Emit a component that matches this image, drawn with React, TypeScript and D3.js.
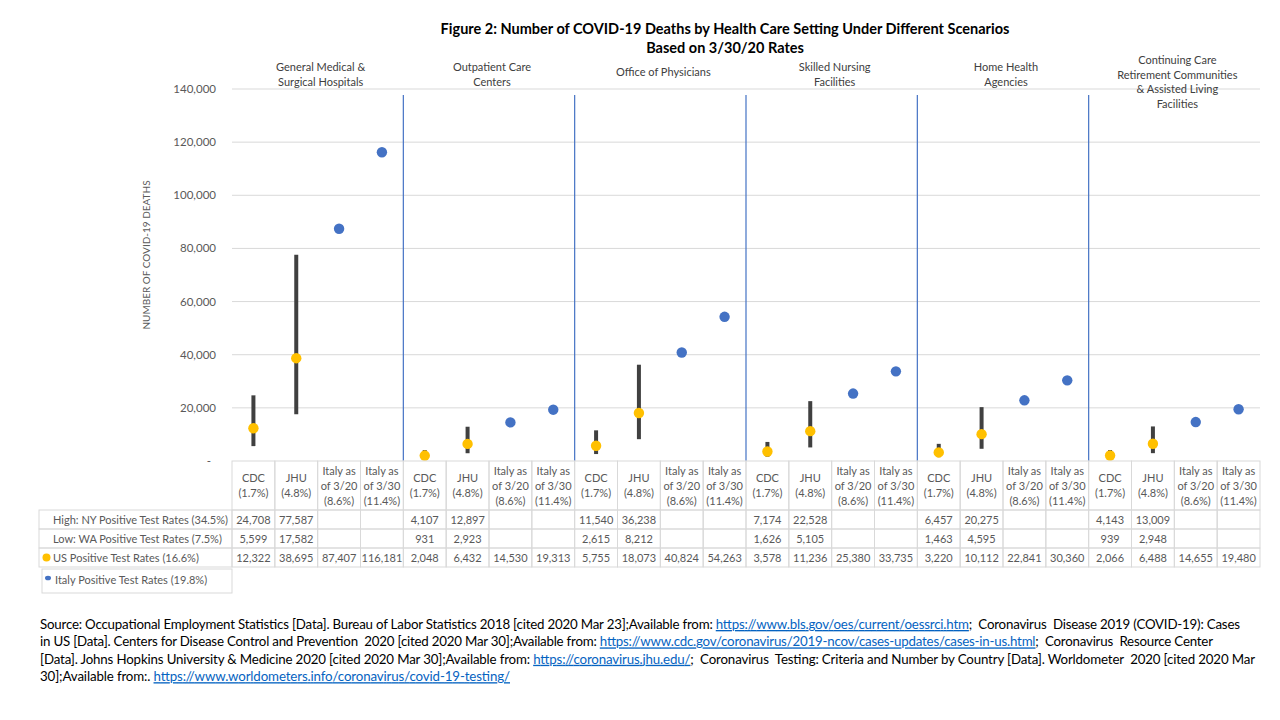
import * as d3 from "d3";

// categories and table data
const groupLabels = [
  ["General Medical &", "Surgical Hospitals"],
  ["Outpatient Care", "Centers"],
  ["Office of Physicians"],
  ["Skilled Nursing", "Facilities"],
  ["Home Health", "Agencies"],
  ["Continuing Care", "Retirement Communities", "& Assisted Living", "Facilities"],
];
const scenarioLabels = [
  ["CDC", "(1.7%)"],
  ["JHU", "(4.8%)"],
  ["Italy as", "of 3/20", "(8.6%)"],
  ["Italy as", "of 3/30", "(11.4%)"],
];
const scenarioSeries = ["us", "us", "italy", "italy"];

const highNY = [
  24708, 77587, null, null, 4107, 12897, null, null, 11540, 36238, null, null,
  7174, 22528, null, null, 6457, 20275, null, null, 4143, 13009, null, null,
];
const lowWA = [
  5599, 17582, null, null, 931, 2923, null, null, 2615, 8212, null, null,
  1626, 5105, null, null, 1463, 4595, null, null, 939, 2948, null, null,
];
const usRates = [
  12322, 38695, 87407, 116181, 2048, 6432, 14530, 19313, 5755, 18073, 40824, 54263,
  3578, 11236, 25380, 33735, 3220, 10112, 22841, 30360, 2066, 6488, 14655, 19480,
];
const yTicks = [0, 20000, 40000, 60000, 80000, 100000, 120000, 140000];
const rowLabels = [
  "High: NY Positive Test Rates (34.5%)",
  "Low: WA Positive Test Rates (7.5%)",
  "US Positive Test Rates (16.6%)",
];
const italyLegend = "Italy Positive Test Rates (19.8%)";

const sourceLines: [string, boolean][][] = [
  [
    ["Source: Occupational Employment Statistics [Data]. Bureau of Labor Statistics 2018 [cited 2020 Mar 23];Available from: ", false],
    ["https://www.bls.gov/oes/current/oessrci.htm", true],
    [";  Coronavirus  Disease 2019 (COVID-19): Cases", false],
  ],
  [
    ["in US [Data]. Centers for Disease Control and Prevention  2020 [cited 2020 Mar 30];Available from: ", false],
    ["https://www.cdc.gov/coronavirus/2019-ncov/cases-updates/cases-in-us.html", true],
    [";  Coronavirus  Resource Center", false],
  ],
  [
    ["[Data]. Johns Hopkins University & Medicine 2020 [cited 2020 Mar 30];Available from: ", false],
    ["https://coronavirus.jhu.edu/", true],
    [";  Coronavirus  Testing: Criteria and Number by Country [Data]. Worldometer  2020 [cited 2020 Mar", false],
  ],
  [
    ["30];Available from:. ", false],
    ["https://www.worldometers.info/coronavirus/covid-19-testing/", true],
  ],
];
const sourceWidths = [1200, 1173, 1215, 470];

const FONT = "Lato, 'Open Sans', sans-serif";
const GOLD = "#FFC000";
const BLUE = "#4472C4";
const GRID = "#D9D9D9";
const TXT = "#595959";

export default function App() {
  const width = 1280;
  const height = 720;
  const plotLeft = 232;
  const plotRight = 1260;
  const plotTop = 89;
  const plotBottom = 461;

  const cols = d3.range(usRates.length);
  const x = d3.scaleBand<number>().domain(cols).range([plotLeft, plotRight]);
  const y = d3.scaleLinear().domain([0, 140000]).range([plotBottom, plotTop]);
  const fmt = d3.format(",");

  const colW = x.bandwidth();
  const cx = (i: number) => (x(i) as number) + colW / 2;

  const headerBottom = 510;
  const rowH = 19;
  const rows = [highNY, lowWA, usRates];

  return (
    <svg
      width={width}
      height={height}
      style={{ position: "absolute", left: 0, top: 0, background: "#fff" }}
      fontFamily={FONT}
    >
      <rect width={width} height={height} fill="#fff" />

      {/* title */}
      <text x={725} y={34} textAnchor="middle" fontSize={14.5} fontWeight="bold" fill="#000">
        Figure 2: Number of COVID-19 Deaths by Health Care Setting Under Different Scenarios
      </text>
      <text x={725} y={53} textAnchor="middle" fontSize={14.5} fontWeight="bold" fill="#000">
        Based on 3/30/20 Rates
      </text>

      {/* gridlines */}
      {yTicks.filter((t) => t > 0).map((t) => (
        <line key={t} x1={plotLeft} x2={plotRight} y1={y(t)} y2={y(t)} stroke={GRID} strokeWidth={1} />
      ))}

      {/* y tick labels */}
      {yTicks.map((t) => (
        <text
          key={t}
          x={t === 0 ? 211 : 216}
          y={y(t) + 4}
          textAnchor="end"
          fontSize={11.5}
          fill={TXT}
        >
          {t === 0 ? "-" : fmt(t)}
        </text>
      ))}

      {/* y axis title */}
      <text
        transform={`translate(150,255) rotate(-90)`}
        textAnchor="middle"
        fontSize={10}
        fill={TXT}
      >
        NUMBER OF COVID-19 DEATHS
      </text>

      {/* group separators */}
      {groupLabels.slice(1).map((_, g) => (
        <line
          key={g}
          x1={x((g + 1) * 4) as number}
          x2={x((g + 1) * 4) as number}
          y1={95}
          y2={plotBottom}
          stroke={BLUE}
          strokeWidth={1.2}
        />
      ))}

      {/* group labels */}
      {groupLabels.map((lines, g) => {
        const gx = ((x(g * 4) as number) + (x(g * 4 + 3) as number) + colW) / 2 + 3;
        const startY = lines.length === 1 ? 76 : lines.length === 2 ? 71 : 64;
        return (
          <text key={g} textAnchor="middle" fontSize={11} fill="#404040">
            {lines.map((l, k) => (
              <tspan key={k} x={gx} y={startY + k * 14.5}>
                {l}
              </tspan>
            ))}
          </text>
        );
      })}

      {/* high-low ranges */}
      {cols.map((i) =>
        highNY[i] != null && lowWA[i] != null ? (
          <line
            key={i}
            x1={cx(i)}
            x2={cx(i)}
            y1={y(lowWA[i] as number)}
            y2={y(highNY[i] as number)}
            stroke="#404040"
            strokeWidth={4}
          />
        ) : null
      )}

      {/* points */}
      {cols.map((i) => (
        <circle
          key={i}
          cx={cx(i)}
          cy={y(usRates[i])}
          r={5.2}
          fill={scenarioSeries[i % 4] === "us" ? GOLD : BLUE}
        />
      ))}

      {/* data table: header row */}
      {cols.map((i) => {
        const lines = scenarioLabels[i % 4];
        const startY = lines.length === 2 ? 482 : 475;
        return (
          <g key={i}>
            <rect
              x={x(i) as number}
              y={plotBottom}
              width={colW}
              height={headerBottom - plotBottom}
              fill="none"
              stroke={GRID}
            />
            <text textAnchor="middle" fontSize={11} fill={TXT}>
              {lines.map((l, k) => (
                <tspan key={k} x={cx(i)} y={startY + k * 15}>
                  {l}
                </tspan>
              ))}
            </text>
          </g>
        );
      })}

      {/* data table: value rows */}
      {rows.map((vals, r) => {
        const top = headerBottom + r * rowH;
        return (
          <g key={r}>
            <rect x={39} y={top} width={plotLeft - 39} height={rowH} fill="none" stroke={GRID} />
            {r === 2 && <circle cx={46.5} cy={top + rowH / 2} r={4} fill={GOLD} />}
            <text x={53} y={top + 13.5} fontSize={11} fill={TXT}>
              {rowLabels[r]}
            </text>
            {cols.map((i) => (
              <g key={i}>
                <rect x={x(i) as number} y={top} width={colW} height={rowH} fill="none" stroke={GRID} />
                {vals[i] != null && (
                  <text x={cx(i)} y={top + 13.5} textAnchor="middle" fontSize={11} fill={TXT}>
                    {fmt(vals[i] as number)}
                  </text>
                )}
              </g>
            ))}
          </g>
        );
      })}

      {/* Italy legend key */}
      <rect x={42} y={569} width={plotLeft - 42} height={24} fill="none" stroke={GRID} />
      <ellipse cx={48} cy={578} rx={3} ry={2.3} fill={BLUE} />
      <text x={55} y={584} fontSize={11} fill={TXT}>
        {italyLegend}
      </text>

      {/* source note */}
      {sourceLines.map((parts, k) => (
        <text
          key={k}
          x={40}
          y={629 + k * 17.4}
          fontSize={13.3}
          fill="#000"
          textLength={sourceWidths[k]}
          lengthAdjust="spacing"
          style={{ whiteSpace: "pre" }}
        >
          {parts.map(([s, link], j) => (
            <tspan key={j} fill={link ? "#0563C1" : "#000"} textDecoration={link ? "underline" : undefined}>
              {s}
            </tspan>
          ))}
        </text>
      ))}
    </svg>
  );
}
